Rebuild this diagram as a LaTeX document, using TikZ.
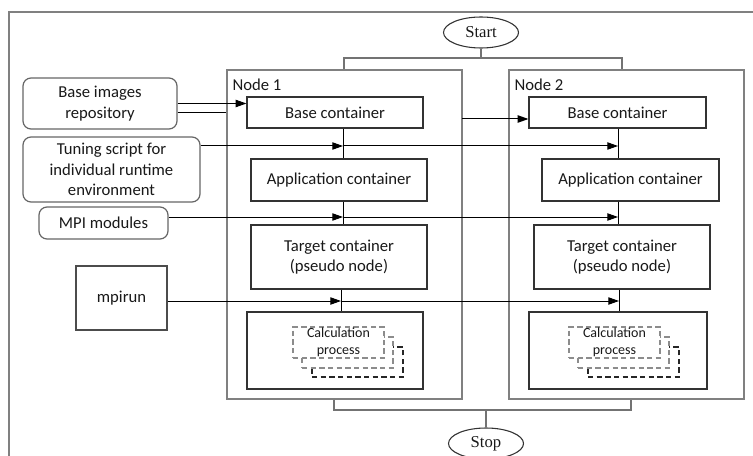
\documentclass[tikz,border=0pt]{standalone}
\usepackage{fontspec}
\setmainfont{Carlito}
\newfontfamily\serifterm{Liberation Serif}
\usetikzlibrary{arrows.meta,shapes.geometric,fit,calc}
\begin{document}
\begin{tikzpicture}[x=0.75pt,y=-0.75pt,
 every node/.style={font=\fontsize{12.5}{15.5}\selectfont, text=black!90},
 frm/.style={draw=black!50, line width=1.1pt},
 cont/.style={draw=black!80, line width=0.9pt, inner sep=0pt, align=center},
 rbox/.style={draw=black!60, line width=0.9pt, rounded corners=6pt, inner sep=0pt, align=center},
 sbox/.style={draw=black!70, line width=0.9pt, inner sep=0pt, align=center},
 sz/.style 2 args={minimum width=#1, minimum height=#2},
 term/.style={ellipse, draw=black!80, line width=0.8pt, minimum width=56.25pt, minimum height=23.25pt, inner sep=0pt, font=\serifterm\fontsize{12.5}{15}\selectfont},
 conn/.style={draw=black, line width=0.75pt},
 arr/.style={conn, -{Triangle[length=8pt,width=5.5pt]}},
 gconn/.style={draw=black!55, line width=0.9pt},
 dproc/.style={draw=black!45, dash pattern=on 4pt off 2.5pt, line width=1pt, fill=white, inner sep=0pt, minimum width=68.25pt, minimum height=23.25pt},
 dback/.style={draw=black!85, dash pattern=on 4pt off 2.5pt, line width=0.9pt, fill=white, inner sep=0pt, minimum width=68.25pt, minimum height=22.5pt},
 ptext/.style={font=\fontsize{10.5}{12.75}\selectfont, align=center},
]
\useasboundingbox (0,0) rectangle (753,456);
\clip (0,0) rectangle (753,456);
\fill[white] (0,0) rectangle (753,456);
% outer frame
\draw[frm] (9,12) rectangle (800,520);

% start / stop
\node[term] (start) at (481,32.5) {Start};
\node[term] (stop) at (486,443.5) {Stop};

% node frames
\node[frm, inner sep=0pt, fit={(227,70) (462,399)}] (n1) {};
\node[frm, inner sep=0pt, fit={(509,70) (744,399)}] (n2) {};
\node[anchor=base west, inner sep=0pt] (l1) at ($(n1.north west)+(6,21)$) {Node 1};
\node[anchor=base west, inner sep=0pt] (l2) at ($(n2.north west)+(6,21)$) {Node 2};

% containers node 1
\node[cont, sz={132pt}{23.25pt}] (b1) at (335,112.5) {Base container};
\node[cont, sz={132pt}{31.5pt}] (a1) at (339,180) {Application container};
\node[cont, sz={132pt}{48pt}] (t1) at (339,257) {Target container\\(pseudo node)};
\node[cont, sz={132pt}{57.75pt}] (c1) at (335,350.5) {};
% containers node 2
\node[cont, sz={132.75pt}{23.25pt}] (b2) at (617.5,112.5) {Base container};
\node[cont, sz={132.75pt}{31.5pt}] (a2) at (630.5,180) {Application container};
\node[cont, sz={132pt}{48pt}] (t2) at (622,257) {Target container\\(pseudo node)};
\node[cont, sz={133.5pt}{57.75pt}] (c2) at (618,350.5) {};

% calculation processes node 1
\node[dback] (p1c) at (357.5,362) {};
\node[dproc] (p1b) at (347.5,352.5) {};
\node[dproc, ptext] (p1a) at (338.5,342.5) {Calculation\\process};
% calculation processes node 2
\node[dback] (p2c) at (633.5,362) {};
\node[dproc] (p2b) at (623.5,352.5) {};
\node[dproc, ptext] (p2a) at (614.5,342.5) {Calculation\\process};

% left inputs
\node[rbox, sz={115.5pt}{38.25pt}] (repo) at (100,103.5) {Base images\\repository};
\node[rbox, sz={132.75pt}{48.75pt}] (tune) at (111.5,169.5) {Tuning script for\\individual runtime\\environment};
\node[rbox, sz={96.75pt}{24pt}] (mpi) at (103.5,223) {MPI modules};
\node[sbox, sz={68.25pt}{48pt}] (mpirun) at (121.5,298) {mpirun};

% start / stop branches
\coordinate (bt) at (481,58);
\coordinate (bl) at (344,58);
\coordinate (br) at (622,58);
\draw[gconn] (start.south) -- (bt);
\draw[gconn] (n1.north -| bl) -- (bl) -- (br) -- (n2.north -| br);
\coordinate (dl) at (334,410);
\coordinate (dr) at (631,410);
\draw[gconn] (n1.south -| dl) -- (dl) -- (dr) -- (n2.south -| dr);
\draw[gconn] (stop.north) -- (stop.north |- dl);

% vertical chains
\coordinate (v1) at (343,0);
\coordinate (v2) at (618,0);
\coordinate (w1) at (341,0);
\coordinate (w2) at (619,0);
\draw[conn] (b1.south -| v1) -- (a1.north -| v1);
\draw[conn] (a1.south -| v1) -- (t1.north -| v1);
\draw[conn] (t1.south -| w1) -- (c1.north -| w1);
\draw[conn] (b2.south -| v2) -- (a2.north -| v2);
\draw[conn] (a2.south -| v2) -- (t2.north -| v2);
\draw[conn] (t2.south -| w2) -- (c2.north -| w2);

% repository links
\draw[arr] (repo.east) -- (repo.east -| b1.west);
\draw[conn] (repo.east |- b1.west) -- (n1.west |- b1.west);
\coordinate (q) at (462,119);
\draw[arr] (q) -- (q -| b2.west);

% tuning script
\coordinate (ty) at (0,146);
\draw[arr] (tune.east |- ty) -- (v1 |- ty);
\draw[arr] (v1 |- ty) -- (v2 |- ty);
% MPI modules
\coordinate (my) at (0,217);
\draw[arr] (mpi.east |- my) -- (v1 |- my);
\draw[arr] (v1 |- my) -- (v2 |- my);
% mpirun
\coordinate (ry) at (0,301);
\draw[arr] (mpirun.east |- ry) -- (w1 |- ry);
\draw[arr] (w1 |- ry) -- (w2 |- ry);
\end{tikzpicture}
\end{document}
